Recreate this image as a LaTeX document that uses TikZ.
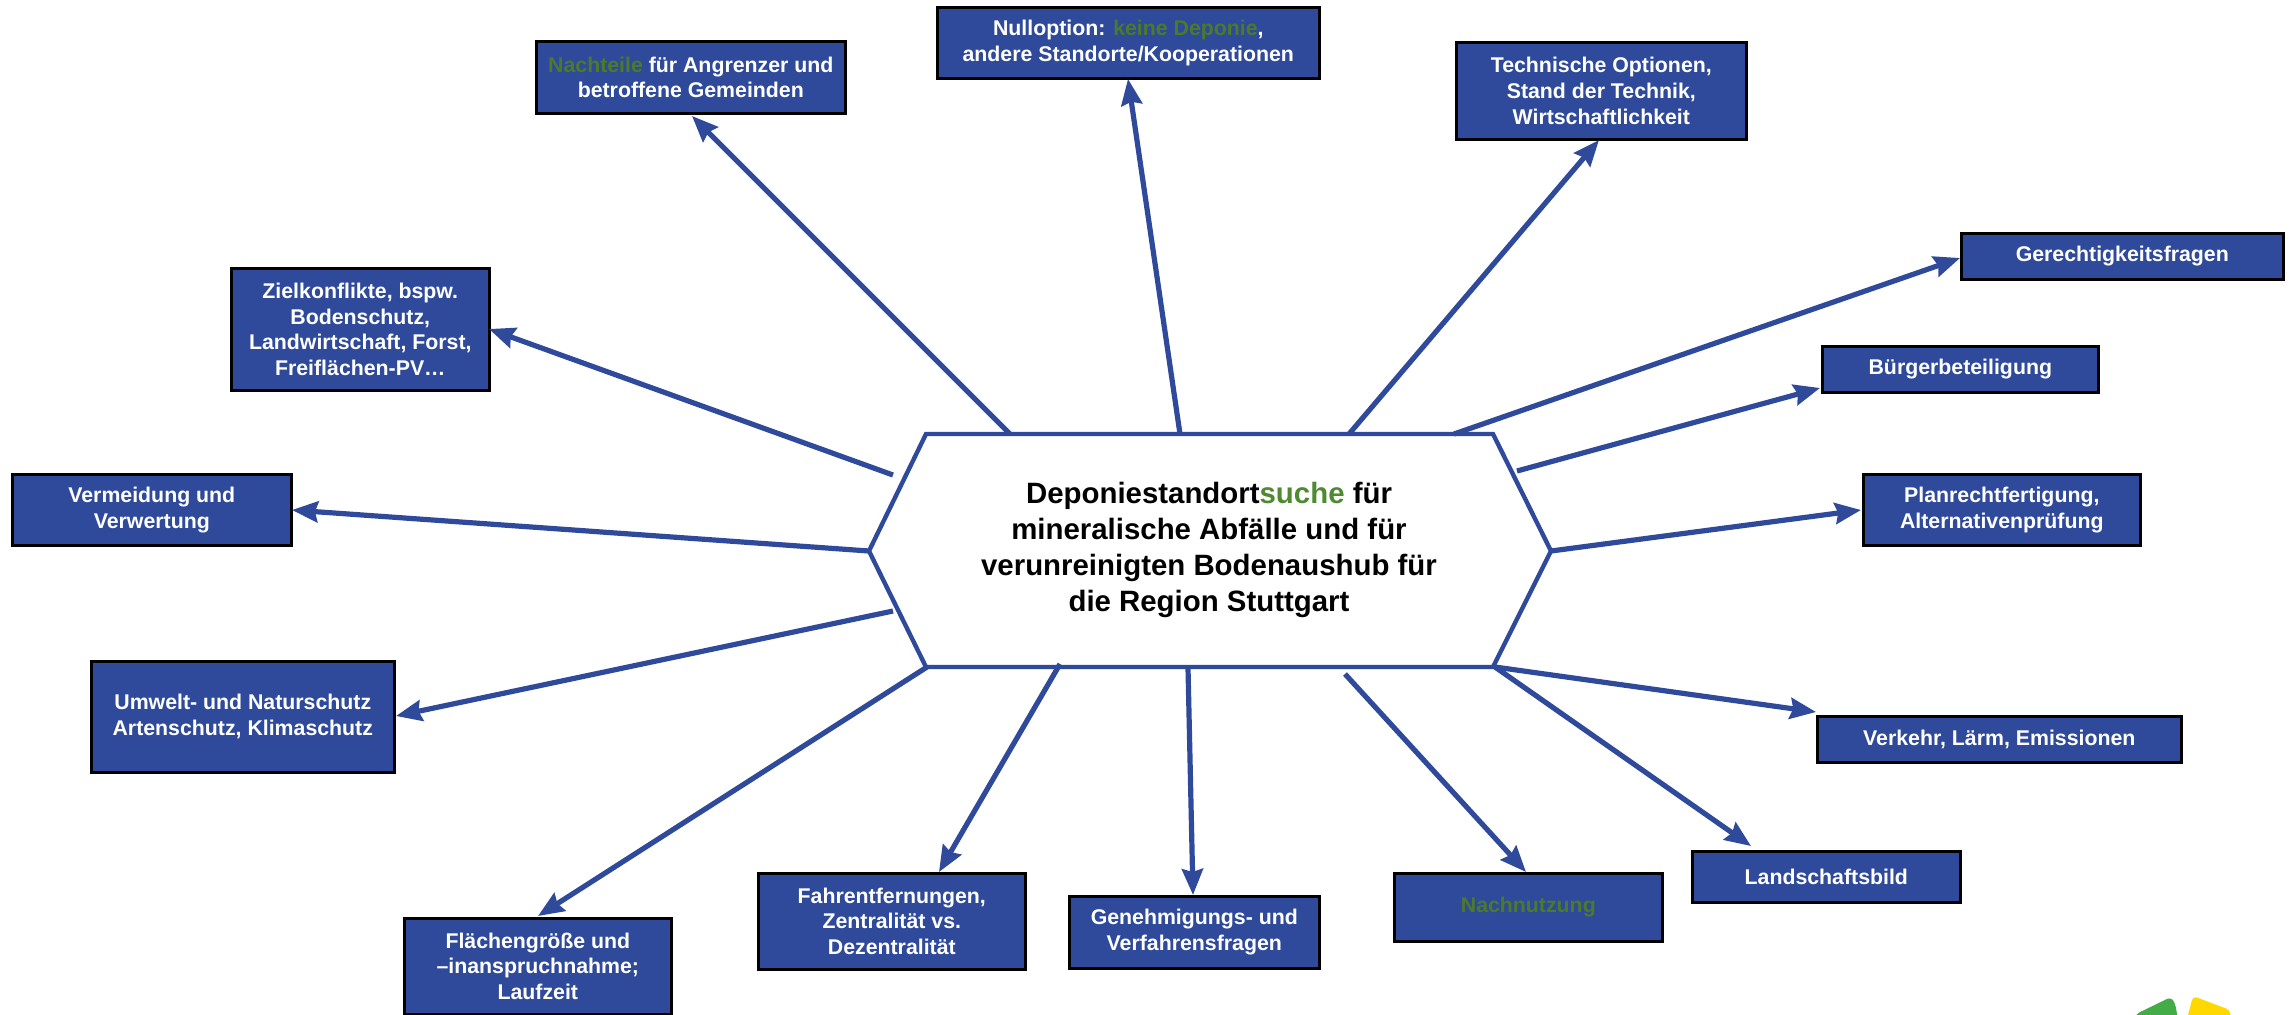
\documentclass[tikz,border=0pt]{standalone}
\usepackage{fontspec}
\setmainfont{Liberation Sans}
\usetikzlibrary{arrows.meta,calc}
\definecolor{bluefill}{HTML}{2F4A9B}
\definecolor{darkgreentext}{HTML}{4B7A2B}
\definecolor{hubgreen}{HTML}{4F8A32}
\definecolor{logogreen}{HTML}{44AC47}
\definecolor{logoyellow}{HTML}{FFD800}
\tikzset{
  x=0.5pt,y=-0.5pt,
  topic/.style={draw=black,line width=1.3pt,fill=bluefill,text=white,font=\bfseries\fontsize{10.65}{12.9}\selectfont,align=center,inner sep=0pt,anchor=north west},
  link/.style={draw=bluefill,line width=2.6pt,-{Stealth[length=13pt,width=10.5pt,inset=1.5pt]}},
}
\newcommand{\topicbox}[6]{\node[topic,minimum width=#4*0.5pt-#2*0.5pt,minimum height=#5*0.5pt-#3*0.5pt] (#1) at (#2,#3) {#6};}
\begin{document}
\begin{tikzpicture}
\useasboundingbox (0,0) rectangle (2292,1014);
\begin{scope}
\clip (0,0) rectangle (2292,1014);
\fill[logogreen,rounded corners=2pt] (2130,1030) -- (2136,1014) -- (2171,997) -- (2175,1003) -- (2180,1030) -- cycle;
\fill[logoyellow,rounded corners=2pt] (2184,1030) -- (2193,996) -- (2230,1010) -- (2232,1030) -- cycle;
\end{scope}
% hub
\coordinate (hTL) at (926,434); \coordinate (hTR) at (1493,434);
\coordinate (hR) at (1551,551); \coordinate (hBR) at (1493,667);
\coordinate (hBL) at (926,667); \coordinate (hL) at (869,551);
\draw[bluefill,line width=2.2pt,fill=white,line join=miter] (hTL)--(hTR)--(hR)--(hBR)--(hBL)--(hL)--cycle;
\node[font=\bfseries\fontsize{14.7}{18.0}\selectfont,align=center,inner sep=0pt] (hub) at (1209,550) {Deponiestandort\textcolor{hubgreen}{suche} für\\mineralische Abfälle und für\\verunreinigten Bodenaushub für\\die Region Stuttgart};
% boxes
\topicbox{nach}{535}{40}{844}{112}{\textcolor{darkgreentext}{Nachteile} für Angrenzer und\\betroffene Gemeinden}
\topicbox{null}{936}{6}{1318}{77}{Nulloption: \textcolor{darkgreentext}{keine Deponie},\\andere Standorte/Kooperationen}
\topicbox{tech}{1455}{41}{1745}{138}{Technische Optionen,\\Stand der Technik,\\Wirtschaftlichkeit}
\topicbox{gere}{1960}{232}{2282}{278}{Gerechtigkeitsfragen}
\topicbox{buer}{1821}{345}{2097}{391}{Bürgerbeteiligung}
\topicbox{plan}{1862}{473}{2139}{544}{Planrechtfertigung,\\Alternativenprüfung}
\topicbox{verk}{1816}{715}{2180}{761}{Verkehr, Lärm, Emissionen}
\topicbox{land}{1691}{850}{1959}{901}{Landschaftsbild}
\topicbox{nutz}{1393}{872}{1661}{940}{\textcolor{darkgreentext}{Nachnutzung}}
\topicbox{gene}{1068}{895}{1318}{967}{Genehmigungs- und\\Verfahrensfragen}
\topicbox{fahr}{757}{872}{1024}{968}{Fahrentfernungen,\\Zentralität vs.\\Dezentralität}
\topicbox{flae}{403}{917}{670}{1013}{Flächengröße und\\–inanspruchnahme;\\Laufzeit}
\topicbox{umwe}{90}{660}{393}{771}{Umwelt- und Naturschutz\\Artenschutz, Klimaschutz}
\topicbox{verm}{11}{473}{290}{544}{Vermeidung und\\Verwertung}
\topicbox{ziel}{230}{267}{488}{389}{Zielkonflikte, bspw.\\Bodenschutz,\\Landwirtschaft, Forst,\\Freiflächen-PV…}
% connectors: start on hub, tip at box edge
\coordinate (s1) at (1010,434);  \coordinate (t1) at (692,116);
\coordinate (s2) at (1180,434);  \coordinate (t2) at (1128,79);
\coordinate (s3) at (1349,434);  \coordinate (t3) at (1599,140);
\coordinate (s4) at (1454,434);  \coordinate (t4) at (1960,258);
\coordinate (s5) at (1517,471);  \coordinate (t5) at (1820,388);
\coordinate (s6) at (1551,551);  \coordinate (t6) at (1861,510);
\coordinate (s7) at (1495,667);  \coordinate (t7) at (1816,712);
\coordinate (s8) at (1495,667);  \coordinate (t8) at (1751,846);
\coordinate (s9) at (1345,674);  \coordinate (t9) at (1526,872);
\coordinate (s10) at (1188,668); \coordinate (t10) at (1193,895);
\coordinate (s11) at (1060,664); \coordinate (t11) at (939,872);
\coordinate (s12) at (927,667);  \coordinate (t12) at (538,916);
\coordinate (s13) at (893,611);  \coordinate (t13) at (396,716);
\coordinate (s14) at (869,551);  \coordinate (t14) at (292,510);
\coordinate (s15) at (893,475);  \coordinate (t15) at (489,329);
\foreach \i in {1,...,15} {\draw[link] (s\i) -- (t\i);}
\end{tikzpicture}
\end{document}
